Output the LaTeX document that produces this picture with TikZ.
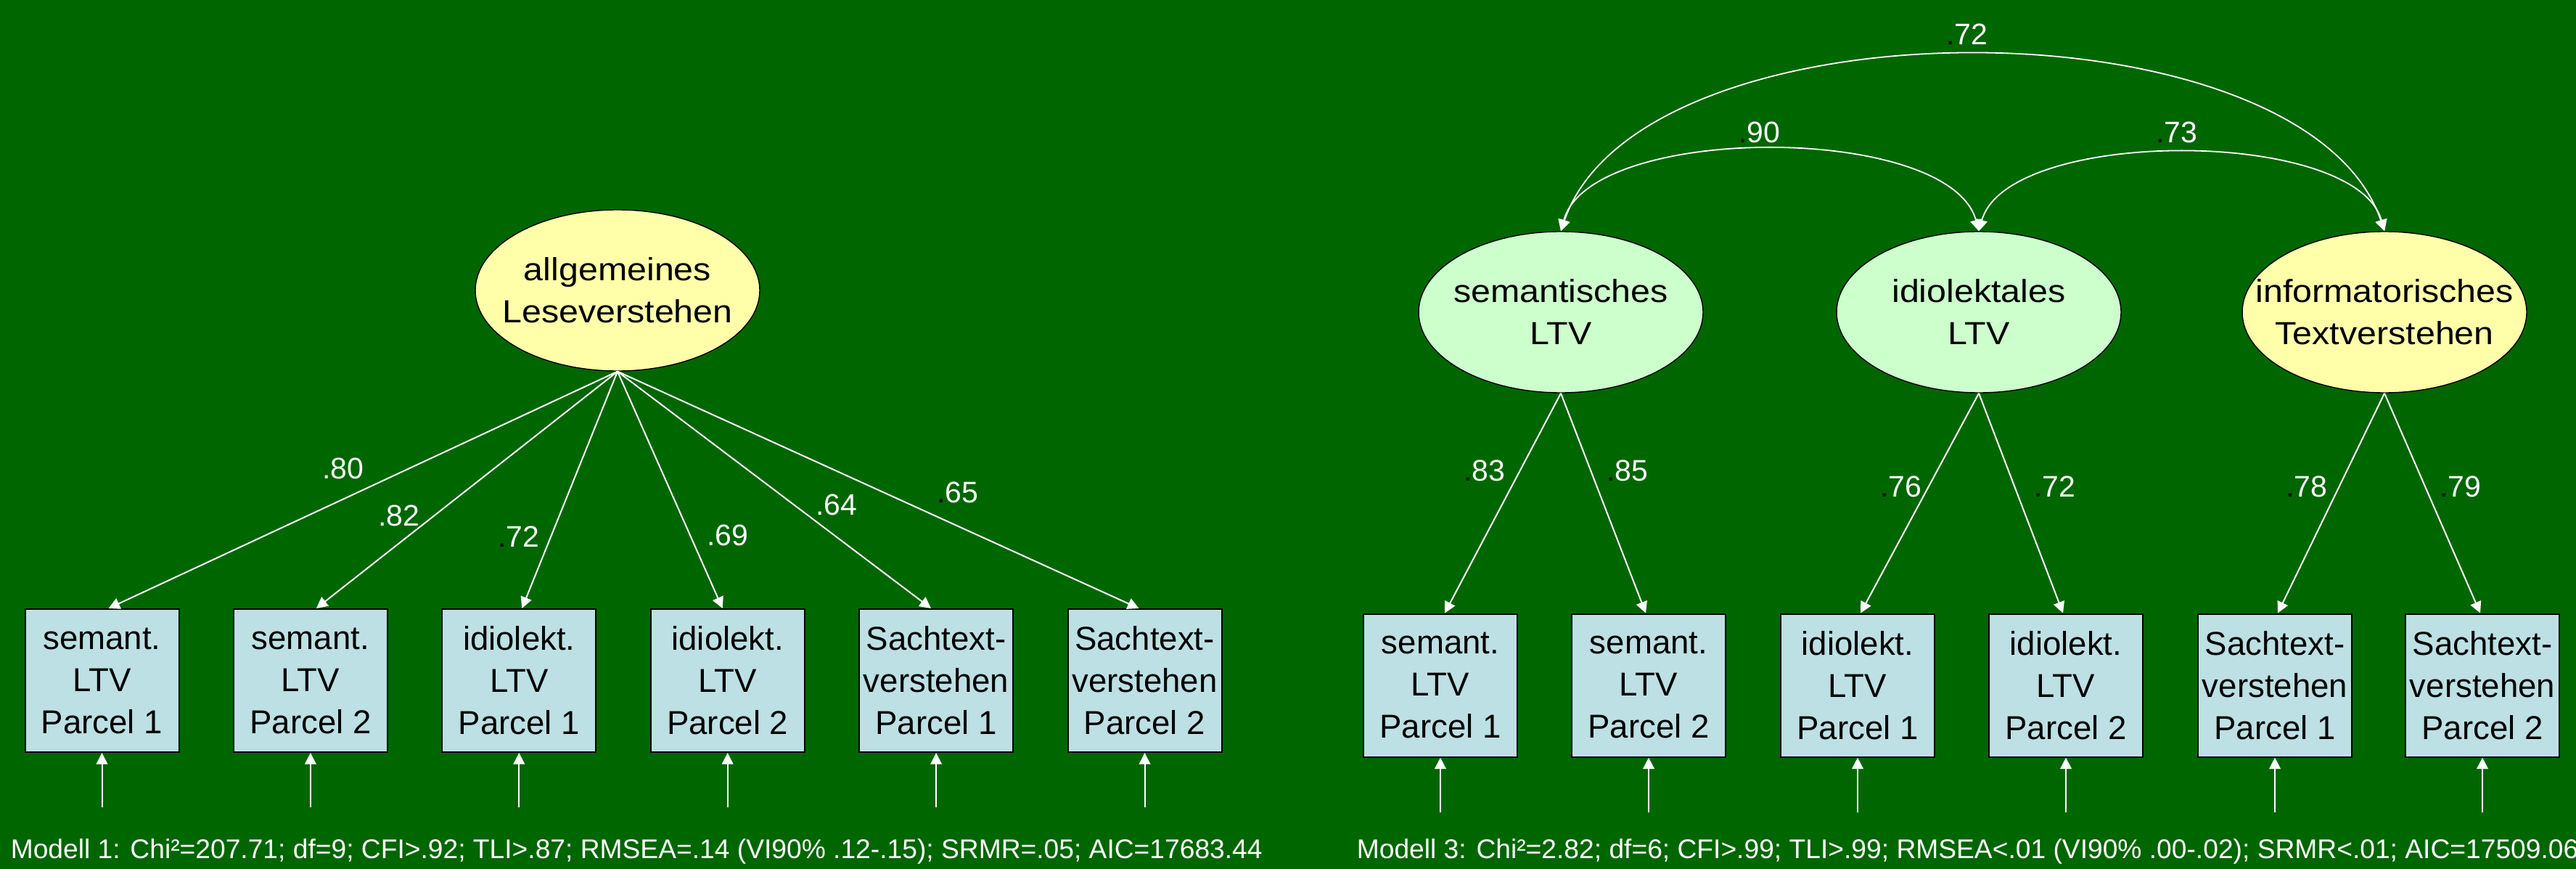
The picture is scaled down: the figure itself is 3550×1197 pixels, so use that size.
\documentclass[tikz,border=0pt]{standalone}
\usepackage{fontspec}
\setmainfont{Liberation Sans}
\newfontfamily\widefont[FakeStretch=1.1]{Liberation Sans}
\usetikzlibrary{shapes.geometric,arrows.meta,calc}
\definecolor{bgreen}{HTML}{006600}
\definecolor{boxblue}{HTML}{BCE0E4}
\definecolor{latyellow}{HTML}{FFFFAA}
\definecolor{latgreen}{HTML}{CCFFCC}
\newcommand\blkdot{\textcolor{black}{.}}
\begin{document}
\begin{tikzpicture}[x=0.25pt,y=-0.25pt,
  latent/.style={ellipse,draw=black,line width=0.35pt,minimum width=98pt,minimum height=55.5pt,inner sep=0pt},
  lattext/.style={align=center,font=\widefont\fontsize{11}{14.5}\selectfont,text=black,inner sep=0pt},
  parcel/.style={rectangle,draw=black,line width=0.5pt,fill=boxblue,minimum width=53pt,minimum height=49.25pt,inner sep=0pt,align=center,font=\fontsize{11.4}{14.5}\selectfont},
  loadarrow/.style={draw=white,line width=0.5pt,-{Triangle[length=3.9pt,width=3.9pt]}},
  cov/.style={draw=white,line width=0.45pt,{Triangle[length=3.9pt,width=3.9pt]}-{Triangle[length=3.9pt,width=3.9pt]}},
  coef/.style={text=white,inner sep=0pt,font=\fontsize{10.25}{12}\selectfont},
  fitline/.style={text=white,inner sep=0pt,anchor=base west,font=\fontsize{9.3}{11}\selectfont}
]
% background
\path[use as bounding box,fill=bgreen] (0,0) rectangle (3550,1197);

% ---------------- Modell 1 ----------------
\node[latent,fill=latyellow,label={[lattext]center:allgemeines\\Leseverstehen}] (G) at (851,400) {};

\node[parcel] (a1) at (140.5,937.5) {semant.\\LTV\\Parcel 1};
\node[parcel] (a2) at (427.9,937.5) {semant.\\LTV\\Parcel 2};
\node[parcel] (a3) at (715.3,937.5) {idiolekt.\\LTV\\Parcel 1};
\node[parcel] (a4) at (1002.7,937.5) {idiolekt.\\LTV\\Parcel 2};
\node[parcel] (a5) at (1290.1,937.5) {Sachtext-\\verstehen\\Parcel 1};
\node[parcel] (a6) at (1577.5,937.5) {Sachtext-\\verstehen\\Parcel 2};

\draw[loadarrow] (G.south) -- ($(a1.north)+(9,0)$);
\draw[loadarrow] (G.south) -- ($(a2.north)+(8,0)$);
\draw[loadarrow] (G.south) -- ($(a3.north)+(4,0)$);
\draw[loadarrow] (G.south) -- ($(a4.north)+(-7,0)$);
\draw[loadarrow] (G.south) -- ($(a5.north)+(-7,0)$);
\draw[loadarrow] (G.south) -- ($(a6.north)+(-8,0)$);

\node[coef] (la1) at (473,645) {.80};
\node[coef] (la2) at (550,710) {.82};
\node[coef] (la3) at (715,739) {\blkdot72};
\node[coef] (la4) at (1003,737) {.69};
\node[coef] (la5) at (1153,695) {.64};
\node[coef] (la6) at (1320,678) {\blkdot65};

\foreach \b in {a1,a2,a3,a4,a5,a6}
  \draw[loadarrow] ($(\b.south)+(0,75)$) -- (\b.south);

\node[fitline] (fit1) at (14,1182) {Modell 1: Chi²=207.71; df=9; CFI>.92; TLI>.87; RMSEA=.14 (VI90\% .12-.15); SRMR=.05; AIC=17683.44};

% ---------------- Modell 3 ----------------
\node[latent,fill=latgreen,label={[lattext]center:semantisches\\LTV}] (S) at (2151,430) {};
\node[latent,fill=latgreen,label={[lattext]center:idiolektales\\LTV}] (I) at (2727,430) {};
\node[latent,fill=latyellow,label={[lattext]center:informatorisches\\Textverstehen}] (T) at (3286,430) {};

\node[parcel] (b1) at (1985,944) {semant.\\LTV\\Parcel 1};
\node[parcel] (b2) at (2272,944) {semant.\\LTV\\Parcel 2};
\node[parcel] (b3) at (2560,944) {idiolekt.\\LTV\\Parcel 1};
\node[parcel] (b4) at (2847,944) {idiolekt.\\LTV\\Parcel 2};
\node[parcel] (b5) at (3135,944) {Sachtext-\\verstehen\\Parcel 1};
\node[parcel] (b6) at (3421,944) {Sachtext-\\verstehen\\Parcel 2};

\draw[loadarrow] (S.south) -- ($(b1.north)+(6,0)$);
\draw[loadarrow] (S.south) -- ($(b2.north)+(-4,0)$);
\draw[loadarrow] (I.south) -- ($(b3.north)+(4,0)$);
\draw[loadarrow] (I.south) -- ($(b4.north)+(-4,0)$);
\draw[loadarrow] (T.south) -- ($(b5.north)+(4,0)$);
\draw[loadarrow] (T.south) -- ($(b6.north)+(-3,0)$);

\node[coef] (lb1) at (2046,648) {\blkdot83};
\node[coef] (lb2) at (2243,648) {\blkdot85};
\node[coef] (lb3) at (2620,670) {\blkdot76};
\node[coef] (lb4) at (2832,670) {\blkdot72};
\node[coef] (lb5) at (3179,670) {\blkdot78};
\node[coef] (lb6) at (3391,670) {\blkdot79};

\foreach \b in {b1,b2,b3,b4,b5,b6}
  \draw[loadarrow] ($(\b.south)+(0,75)$) -- (\b.south);

% correlations between the factors
\draw[cov] (S.north) .. controls ($(S.north)+(40,-149)$) and ($(I.north)+(-40,-149)$) .. (I.north);
\draw[cov] (I.north) .. controls ($(I.north)+(40,-143)$) and ($(T.north)+(-40,-143)$) .. (T.north);
\draw[cov] (S.north) .. controls ($(S.north)+(110,-323)$) and ($(T.north)+(-110,-323)$) .. (T.north);

\node[coef] (c1) at (2425,182) {\blkdot90};
\node[coef] (c2) at (3000,182) {\blkdot73};
\node[coef] (c3) at (2711,47) {\blkdot72};

\node[fitline] (fit3) at (1869,1182) {Modell 3: Chi²=2.82; df=6; CFI>.99; TLI>.99; RMSEA<.01 (VI90\% .00-.02); SRMR<.01; AIC=17509.06};
\end{tikzpicture}
\end{document}
